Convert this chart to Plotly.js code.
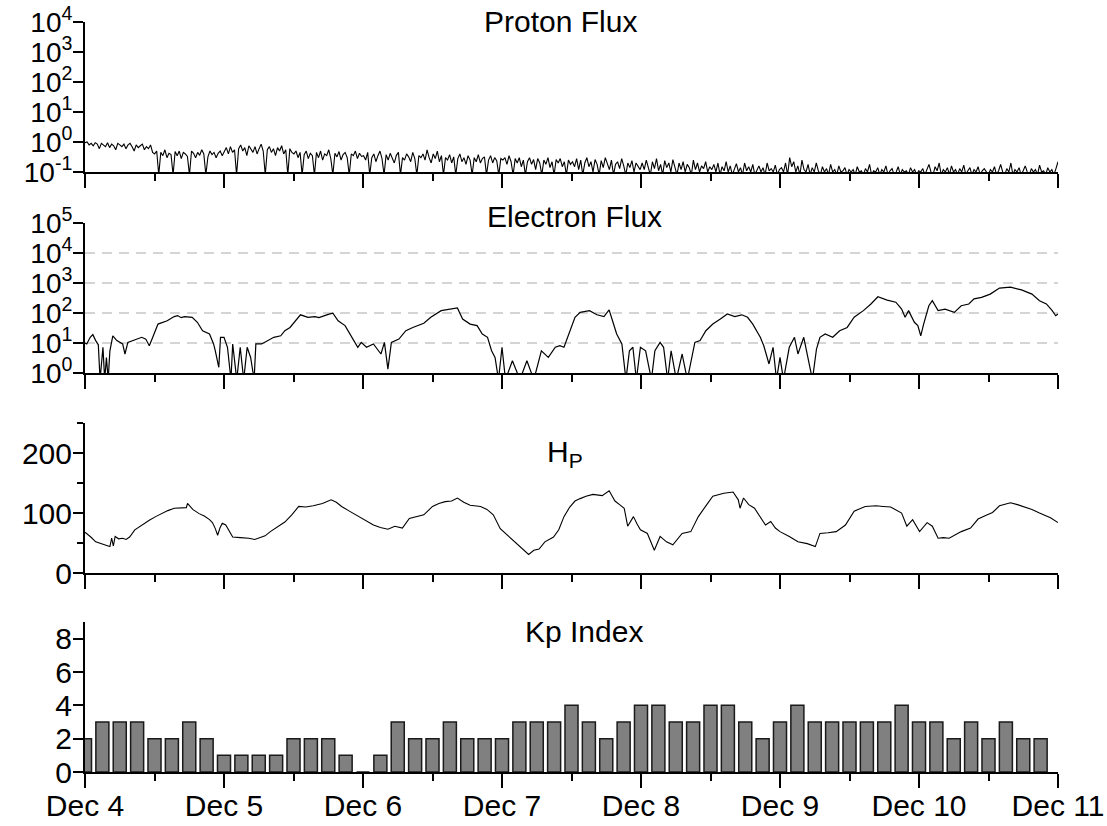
<!DOCTYPE html>
<html>
<head>
<meta charset="utf-8">
<script src="https://cdn.plot.ly/plotly-3.0.1.min.js"></script>
<style>html,body{margin:0;padding:0;background:#fff}#chart{width:1107px;height:826px}</style>
</head>
<body>
<div id="chart"></div>
<script>
// ---------- data ----------
const START = Date.UTC(2013, 11, 4);
const HOUR = 3600000;
const totalHours = 168;

const dayLabels = ['Dec 4','Dec 5','Dec 6','Dec 7','Dec 8','Dec 9','Dec 10','Dec 11'];
const panelTitles = ['Proton Flux', 'Electron Flux', 'H<sub>P</sub>', 'Kp Index'];

const protonFlux = [
 0.95,1.0,0.8,0.9,0.75,0.95,0.85,0.6,0.9,0.8,0.7,0.95,0.65,0.85,0.75,0.55,0.9,0.8,0.7,0.85,0.6,0.8,0.9,0.7,0.5,0.8,0.65,0.75,0.85,0.55,0.7,0.6,0.8,0.45,
 0.4,0.5,0.08,0.45,0.35,0.55,0.3,0.42,0.38,0.08,0.48,0.35,0.5,0.28,0.45,0.4,0.33,0.08,0.5,0.42,0.3,0.45,0.36,0.55,0.4,0.08,0.32,0.5,0.38,0.45,0.3,0.42,0.5,0.35,
 0.5,0.65,0.4,0.7,0.45,0.55,0.08,0.6,0.8,0.5,0.65,0.35,0.75,0.55,0.45,0.7,0.4,0.6,0.85,0.5,0.08,0.55,0.7,0.45,0.6,0.35,0.65,0.5,0.75,0.4,0.55,0.08,0.6,0.45,
 0.4,0.5,0.3,0.45,0.08,0.38,0.5,0.28,0.42,0.35,0.08,0.45,0.3,0.5,0.25,0.4,0.35,0.55,0.28,0.08,0.42,0.32,0.48,0.25,0.38,0.45,0.3,0.08,0.4,0.35,0.5,0.28,0.42,0.33,
 0.35,0.25,0.45,0.08,0.3,0.4,0.22,0.35,0.5,0.28,0.08,0.38,0.25,0.42,0.3,0.2,0.36,0.45,0.08,0.3,0.25,0.4,0.32,0.22,0.45,0.28,0.08,0.35,0.3,0.4,0.25,0.55,0.3,0.2,
 0.4,0.28,0.5,0.22,0.35,0.08,0.3,0.25,0.38,0.2,0.32,0.08,0.28,0.4,0.22,0.3,0.18,0.35,0.25,0.08,0.3,0.22,0.38,0.2,0.28,0.32,0.08,0.25,0.35,0.2,0.3,0.24,0.08,0.28,
 0.25,0.3,0.18,0.35,0.22,0.08,0.28,0.2,0.3,0.15,0.25,0.08,0.22,0.3,0.18,0.26,0.12,0.28,0.2,0.08,0.25,0.18,0.3,0.14,0.22,0.08,0.26,0.2,0.28,0.15,0.22,0.08,0.25,0.18,
 0.22,0.15,0.28,0.12,0.25,0.08,0.2,0.3,0.15,0.22,0.1,0.26,0.18,0.08,0.24,0.14,0.3,0.2,0.12,0.25,0.08,0.18,0.22,0.13,0.28,0.16,0.08,0.2,0.14,0.24,0.1,0.2,0.15,0.12,
 0.2,0.12,0.25,0.15,0.08,0.22,0.13,0.28,0.11,0.18,0.08,0.24,0.14,0.2,0.1,0.26,0.15,0.08,0.2,0.12,0.22,0.1,0.18,0.14,0.08,0.25,0.12,0.2,0.1,0.16,0.13,0.22,0.1,0.15,
 0.12,0.18,0.1,0.2,0.08,0.15,0.11,0.22,0.1,0.16,0.08,0.13,0.19,0.1,0.14,0.08,0.2,0.11,0.15,0.1,0.18,0.08,0.12,0.16,0.1,0.14,0.08,0.2,0.11,0.13,0.1,0.17,0.08,0.12,
 0.14,0.1,0.2,0.08,0.3,0.15,0.22,0.1,0.16,0.08,0.25,0.12,0.1,0.18,0.08,0.14,0.1,0.2,0.11,0.08,0.15,0.1,0.13,0.08,0.18,0.1,0.12,0.08,0.16,0.1,0.11,0.14,0.08,0.12,
 0.1,0.12,0.08,0.15,0.1,0.11,0.08,0.13,0.1,0.18,0.08,0.11,0.1,0.14,0.08,0.12,0.1,0.16,0.08,0.11,0.13,0.08,0.1,0.15,0.08,0.12,0.1,0.11,0.08,0.14,0.1,0.12,0.08,0.11,
 0.1,0.13,0.08,0.12,0.18,0.1,0.08,0.15,0.11,0.2,0.08,0.12,0.1,0.14,0.08,0.16,0.1,0.12,0.08,0.13,0.1,0.17,0.08,0.11,0.14,0.08,0.12,0.1,0.15,0.08,0.11,0.13,0.1,0.08,
 0.12,0.1,0.15,0.08,0.11,0.18,0.1,0.08,0.13,0.1,0.2,0.08,0.12,0.1,0.14,0.08,0.11,0.16,0.1,0.08,0.13,0.1,0.12,0.08,0.17,0.1,0.11,0.08,0.14,0.1,0.12,0.08,0.13,0.22
];

const electronHours = [0,0.3,0.9,1.35,1.85,2.3,2.6,3.1,3.4,3.7,4.0,4.3,4.8,5.5,6.5,6.9,7.4,8.6,9.8,10.5,11.1,11.7,12.6,14.2,15.4,16.0,16.6,17.2,18.5,19.4,20.3,21.5,22.2,22.5,23.1,23.4,24.0,24.6,25.2,25.5,26.2,26.8,27.4,28.0,28.6,29.2,29.5,30.5,31.4,32.6,33.8,34.5,35.4,36.3,37.2,38.5,39.7,40.4,41.2,42.0,42.8,43.7,44.9,46.2,47.1,47.7,48.6,49.8,51.1,51.7,52.3,52.9,54.2,55.4,56.6,58.5,59.7,61.5,63.1,64.3,65.2,66.5,67.7,68.6,69.5,70.2,70.8,71.4,72.0,72.6,73.8,75.1,76.3,77.5,78.8,80.0,81.2,82.0,82.7,83.3,83.9,84.6,85.5,87.1,88.4,89.6,90.5,91.2,91.8,92.7,93.4,94.0,94.6,95.2,95.9,96.8,97.8,98.4,99.3,99.9,100.6,101.2,102.1,103.1,104.0,105.3,106.2,107.2,108.4,109.7,110.9,112.2,113.4,114.4,115.3,116.6,117.2,118.1,118.8,119.4,120.0,120.6,121.6,122.5,123.1,124.1,125.0,125.6,126.3,126.9,127.8,129.1,130.3,131.6,132.8,134.4,135.7,136.9,138.5,140.0,141.0,141.6,142.2,143.2,143.8,144.3,144.8,145.7,146.3,147.3,148.5,150.1,151.3,152.6,153.5,154.8,156.3,157.9,159.8,161.7,163.5,164.8,166.0,167.0,167.6,168.0];
const electronFlux = [10,9.3,15.5,19,12,8.7,0.6,7.2,0.6,3.3,0.6,5.5,17.4,12,9.3,4.3,10.5,12.6,15.5,13.5,8.1,15.5,42.7,55,76,82,70,76,72,49,25.7,20,9.3,5.5,1.55,15.5,15.5,7.2,0.6,9.3,0.6,7.2,0.6,7.2,3.3,0.6,9.3,9.3,11.5,15.5,17.4,25.7,33,55,87,72,76,70,81,90,98,55,38,13.5,7.2,10.5,7.2,9.3,4.3,10.5,1.35,10.5,13.5,25.7,33,45.7,72,120,135,148,63,42.7,38,20,15.5,5.5,3.3,0.6,7.2,0.6,2.57,0.6,2.57,0.6,5.5,3.3,7.2,8.1,7.2,15.5,33,72,105,120,87,76,126,49,20,9.3,0.6,5.5,7.2,0.6,7.2,5.5,0.6,5.5,10.5,7.2,0.6,5.5,0.6,4.3,0.6,10.5,12,25.7,42.7,63,93,76,87,72,42.7,15.5,8.1,2.0,7.2,0.6,3.3,0.6,7.2,15.5,4.3,15.5,2.0,0.6,6.3,15.5,20,15.5,25.7,33,72,120,200,347,269,229,135,72,120,49,38,17.4,42.7,174,257,120,135,105,174,200,295,331,427,676,724,589,427,257,200,120,81,93];
const electronGridValues = [10, 100, 1000, 10000];

const hpHours = [0,0.3,1.0,1.85,2.5,3.1,3.6,4.0,4.3,4.6,4.9,5.2,5.8,6.5,7.1,7.7,8.6,9.8,11.1,12.2,13.2,14.3,15.4,16.5,17.5,17.7,18.6,19.7,20.6,21.5,22.0,22.5,22.9,23.3,23.7,24.3,24.9,25.5,26.8,28.3,29.3,30.2,31.1,32.0,33.2,34.5,35.7,36.9,38.1,39.4,41.0,42.5,43.4,44.3,45.5,46.8,48.3,49.8,51.0,52.3,53.5,54.8,56.0,57.2,58.5,60.0,61.1,62.2,63.3,64.3,65.4,66.5,67.4,68.3,69.4,70.5,71.7,72.4,73.2,74.2,75.1,75.9,76.6,77.5,78.4,79.4,80.9,81.8,82.7,83.7,84.6,85.5,86.5,87.7,88.5,89.3,90.5,91.5,92.3,93.1,93.7,94.7,95.3,95.9,97.1,98.3,99.3,100.4,101.5,102.3,103.1,104.6,105.9,107.2,108.4,110.3,111.9,112.8,113.1,113.7,114.6,115.6,116.5,117.5,118.4,119.2,120.0,121.6,123.1,124.7,126.1,126.9,128.3,129.7,131.3,132.8,134.7,136.6,137.8,139.1,141.0,141.9,142.9,144.1,145.4,146.3,147.3,148.2,149.2,151.3,152.9,154.2,155.5,156.7,157.9,159.8,161.0,162.3,163.5,164.8,166.7,168.0];
const hpValues = [68,66,60,52,50,49,47,45,44,58,45,61,57,58,56,60,72,80,88,94,99,104,108,108,109,116,106,99,95,89,84,74,63,75,83,80,70,60,59,58,56,59,62,69,76,85,97,111,110,112,116,122,118,111,104,97,88,80,76,73,78,75,91,94,97,111,116,119,120,125,118,113,112,111,106,97,74,68,60,52,44,38,31,38,40,52,60,72,94,110,120,124,128,131,130,129,137,120,114,108,78,94,82,72,66,38,61,52,47,56,66,69,94,112,128,133,135,122,108,125,114,108,95,80,86,75,69,61,52,49,44,66,67,69,80,103,111,112,111,110,100,78,89,69,84,78,58,59,58,69,75,90,96,101,112,117,114,110,106,100,92,84];

const kpStepHours = 3;
const kpValues = [2,3,3,3,2,2,3,2, 1,1,1,1,2,2,2,1, 0,1,3,2,2,3,2,2, 2,3,3,3,4,3,2,3, 4,4,3,3,4,4,3,2, 3,4,3,3,3,3,3,4, 3,3,2,3,2,3,2,2];

// ---------- build ----------
const toMs = h => START + h * HOUR;
const protonStep = totalHours / (protonFlux.length - 1);
const protonX = protonFlux.map((_, i) => toMs(i * protonStep));
const electronX = electronHours.map(toMs);
const hpX = hpHours.map(toMs);
const kpX = kpValues.map((_, i) => toMs(i * kpStepHours));
const dayTicks = dayLabels.map((_, i) => toMs(i * 24));
const xRange = [toMs(0), toMs(totalHours)];

// dashed reference lines at electron grid values
const gridX = [], gridY = [];
electronGridValues.forEach(v => { gridX.push(xRange[0], xRange[1], null); gridY.push(v, v, null); });

const FONT = 'Liberation Sans, Arial, sans-serif';
const traces = [
  {x: protonX, y: protonFlux, xaxis: 'x', yaxis: 'y', type: 'scatter', mode: 'lines',
   line: {color: '#000', width: 1.1}, hoverinfo: 'skip'},
  {x: gridX, y: gridY, xaxis: 'x2', yaxis: 'y2', type: 'scatter', mode: 'lines',
   line: {color: '#c8c8c8', width: 1.5, dash: '10px,7px'}, hoverinfo: 'skip'},
  {x: electronX, y: electronFlux, xaxis: 'x2', yaxis: 'y2', type: 'scatter', mode: 'lines',
   line: {color: '#000', width: 1.2}, hoverinfo: 'skip'},
  {x: hpX, y: hpValues, xaxis: 'x3', yaxis: 'y3', type: 'scatter', mode: 'lines',
   line: {color: '#000', width: 1.1}, hoverinfo: 'skip'},
  {x: kpX, y: kpValues, xaxis: 'x4', yaxis: 'y4', type: 'bar', width: kpStepHours * HOUR * 0.75,
   marker: {color: '#808080', line: {color: '#1a1a1a', width: 1.5}}, hoverinfo: 'skip'}
];

function xAxis(anchor, labels) {
  return {
    type: 'date', range: xRange, anchor: anchor,
    tickmode: 'array', tickvals: dayTicks, ticktext: dayLabels, showticklabels: labels,
    ticks: 'outside', ticklen: 14, tickwidth: 2, tickcolor: '#000', ticklabelstandoff: -8,
    minor: {dtick: 12 * HOUR, tick0: toMs(0), ticks: 'outside', ticklen: 7, tickwidth: 2, tickcolor: '#000', showgrid: false},
    showline: true, linewidth: 2, linecolor: '#000', showgrid: false, zeroline: false,
    tickfont: {family: FONT, size: 30, color: '#000'}, fixedrange: true
  };
}
function yBase(domain, fsize) {
  return {
    domain: domain, ticks: 'outside', ticklen: 10, tickwidth: 2, tickcolor: '#000', ticklabelstandoff: -5,
    showline: true, linewidth: 2, linecolor: '#000', showgrid: false, zeroline: false,
    tickfont: {family: FONT, size: fsize, color: '#000'}, fixedrange: true
  };
}
const protonTicks = [0.1, 1, 10, 100, 1000, 10000];
const protonTickText = ['10<sup>-1</sup>','10<sup>0</sup>','10<sup>1</sup>','10<sup>2</sup>','10<sup>3</sup>','10<sup>4</sup>'];
const electronTicks = [1, 10, 100, 1000, 10000, 100000];
const electronTickText = ['10<sup>0</sup>','10<sup>1</sup>','10<sup>2</sup>','10<sup>3</sup>','10<sup>4</sup>','10<sup>5</sup>'];

const layout = {
  width: 1107, height: 826,
  margin: {l: 85, r: 49, t: 22, b: 54},
  paper_bgcolor: '#fff', plot_bgcolor: '#fff',
  showlegend: false, bargap: 0,
  font: {family: FONT, size: 30, color: '#000'},
  xaxis: xAxis('y', false),
  xaxis2: xAxis('y2', false),
  xaxis3: xAxis('y3', false),
  xaxis4: xAxis('y4', true),
  yaxis: Object.assign(yBase([0.8, 1.0], 28), {type: 'log', range: [-1, 4], tickmode: 'array', tickvals: protonTicks, ticktext: protonTickText, anchor: 'x'}),
  yaxis2: Object.assign(yBase([0.532, 0.732], 28), {type: 'log', range: [0, 5], tickmode: 'array', tickvals: electronTicks, ticktext: electronTickText, anchor: 'x2'}),
  yaxis3: Object.assign(yBase([0.2653, 0.4653], 30), {range: [0, 250], tickmode: 'array', tickvals: [0, 100, 200], anchor: 'x3',
     minor: {tickmode: 'array', tickvals: [50, 150, 250], ticks: 'outside', ticklen: 6, tickwidth: 2, tickcolor: '#000', showgrid: false}}),
  yaxis4: Object.assign(yBase([0, 0.2], 30), {range: [0, 9], tickmode: 'array', tickvals: [0, 2, 4, 6, 8], anchor: 'x4'}),
  annotations: [
    {text: panelTitles[0], xref: 'paper', yref: 'paper', x: 0.408, y: 1.0013, xanchor: 'left', yanchor: 'middle', showarrow: false, font: {family: FONT, size: 30, color: '#000'}},
    {text: panelTitles[1], xref: 'paper', yref: 'paper', x: 0.411, y: 0.7413, xanchor: 'left', yanchor: 'middle', showarrow: false, font: {family: FONT, size: 30, color: '#000'}},
    {text: panelTitles[2], xref: 'paper', yref: 'paper', x: 0.473, y: 0.4247, xanchor: 'left', yanchor: 'middle', showarrow: false, font: {family: FONT, size: 30, color: '#000'}},
    {text: panelTitles[3], xref: 'paper', yref: 'paper', x: 0.450, y: 0.1880, xanchor: 'left', yanchor: 'middle', showarrow: false, font: {family: FONT, size: 30, color: '#000'}}
  ]
};

Plotly.newPlot('chart', traces, layout, {displayModeBar: false, staticPlot: true});
</script>
</body>
</html>
